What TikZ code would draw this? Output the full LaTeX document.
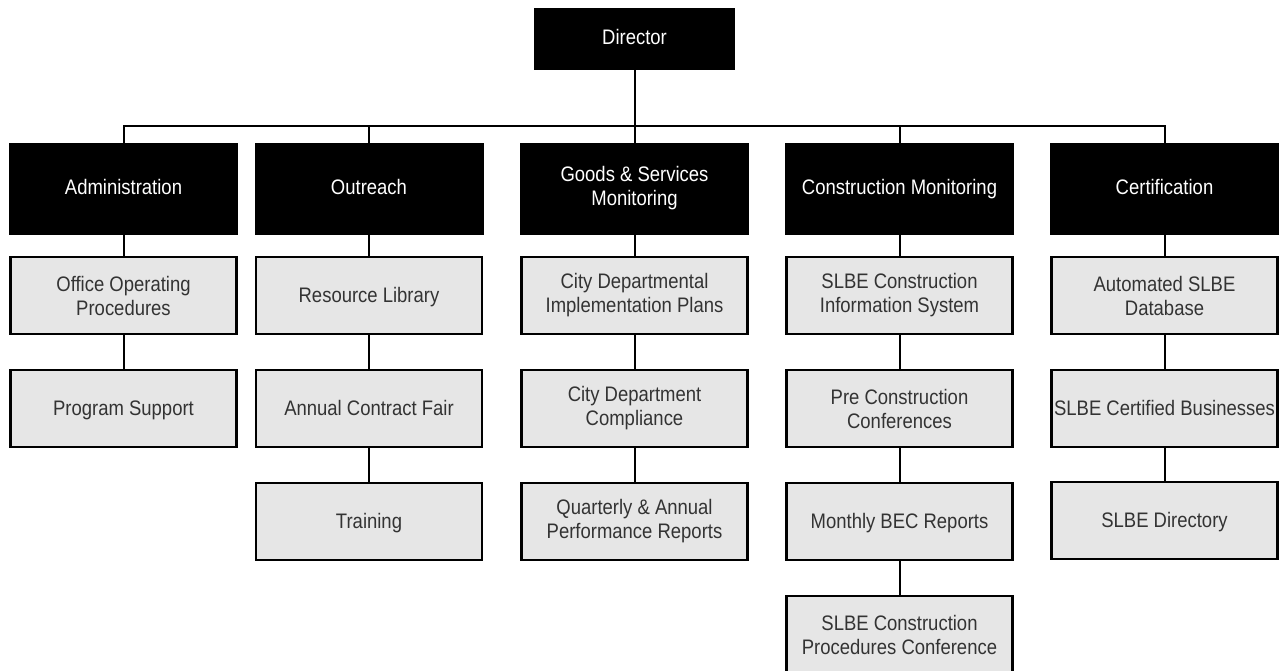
\documentclass[tikz,border=0pt]{standalone}
\usepackage{fontspec}
\setmainfont{Liberation Sans}[FakeStretch=0.88]
\definecolor{boxgray}{HTML}{E6E6E6}
\definecolor{txtgray}{HTML}{333333}
\tikzset{
  head/.style={rectangle, fill=black, draw=black, line width=0.5pt, text=white,
    minimum width=228pt, minimum height=91pt, align=center, inner sep=0pt,
    font=\fontsize{21}{24}\selectfont},
  topbox/.style={head, minimum width=200pt, minimum height=61pt},
  itembox/.style={rectangle, fill=boxgray, draw=black, line width=2.2pt, text=txtgray,
    minimum width=226pt, minimum height=77pt, align=center, inner sep=0pt,
    font=\fontsize{21}{24}\selectfont},
  one/.style={text height=15pt, text depth=2pt},
  conn/.style={draw=black, line width=2pt}
}
\begin{document}
\begin{tikzpicture}[x=1pt,y=-1pt]
\useasboundingbox (0,0) rectangle (1279,671);
% top
\node[topbox, one] (dir) at (634.5,38.5) {Director};
% level 1
\node[head, one] (adm) at (123.5,188.5) {Administration};
\node[head, one] (out) at (369,188.5) {Outreach};
\node[head] (gds) at (634.5,188.5) {Goods \& Services\\Monitoring};
\node[head, one] (con) at (899.5,188.5) {Construction Monitoring};
\node[head, one] (cer) at (1164.5,188.5) {Certification};
\coordinate (bus) at (0,126);
% level 2+
\node[itembox] (a1) at (123.5,295.5) {Office Operating\\Procedures};
\node[itembox, one] (a2) at (123.5,408.5) {Program Support};
\node[itembox, one] (o1) at (369,295.5) {Resource Library};
\node[itembox, one] (o2) at (369,408.5) {Annual Contract Fair};
\node[itembox, one] (o3) at (369,521.5) {Training};
\node[itembox] (g1) at (634.5,295.5) {City Departmental\\Implementation Plans};
\node[itembox] (g2) at (634.5,408.5) {City Department\\Compliance};
\node[itembox] (g3) at (634.5,521.5) {Quarterly \& Annual\\Performance Reports};
\node[itembox] (c1) at (899.5,295.5) {SLBE Construction\\Information System};
\node[itembox] (c2) at (899.5,408.5) {Pre Construction\\Conferences};
\node[itembox, one] (c3) at (899.5,521.5) {Monthly BEC Reports};
\node[itembox] (c4) at (899.5,634.5) {SLBE Construction\\Procedures Conference};
\node[itembox] (e1) at (1164.5,295.5) {Automated SLBE\\Database};
\node[itembox, one] (e2) at (1164.5,408.5) {SLBE Certified Businesses};
\node[itembox, one] (e3) at (1164.5,520.5) {SLBE Directory};
% connectors
\draw[conn] (dir.south) -- (dir.south |- bus);
\draw[conn] (adm.north) -- (adm.north |- bus) -- (cer.north |- bus) -- (cer.north);
\draw[conn] (out.north) -- (out.north |- bus);
\draw[conn] (gds.north) -- (gds.north |- bus);
\draw[conn] (con.north) -- (con.north |- bus);
\draw[conn] (adm.south) -- (a1.north);
\draw[conn] (a1.south) -- (a2.north);
\draw[conn] (out.south) -- (o1.north);
\draw[conn] (o1.south) -- (o2.north);
\draw[conn] (o2.south) -- (o3.north);
\draw[conn] (gds.south) -- (g1.north);
\draw[conn] (g1.south) -- (g2.north);
\draw[conn] (g2.south) -- (g3.north);
\draw[conn] (con.south) -- (c1.north);
\draw[conn] (c1.south) -- (c2.north);
\draw[conn] (c2.south) -- (c3.north);
\draw[conn] (c3.south) -- (c4.north);
\draw[conn] (cer.south) -- (e1.north);
\draw[conn] (e1.south) -- (e2.north);
\draw[conn] (e2.south) -- (e3.north);
\end{tikzpicture}
\end{document}
